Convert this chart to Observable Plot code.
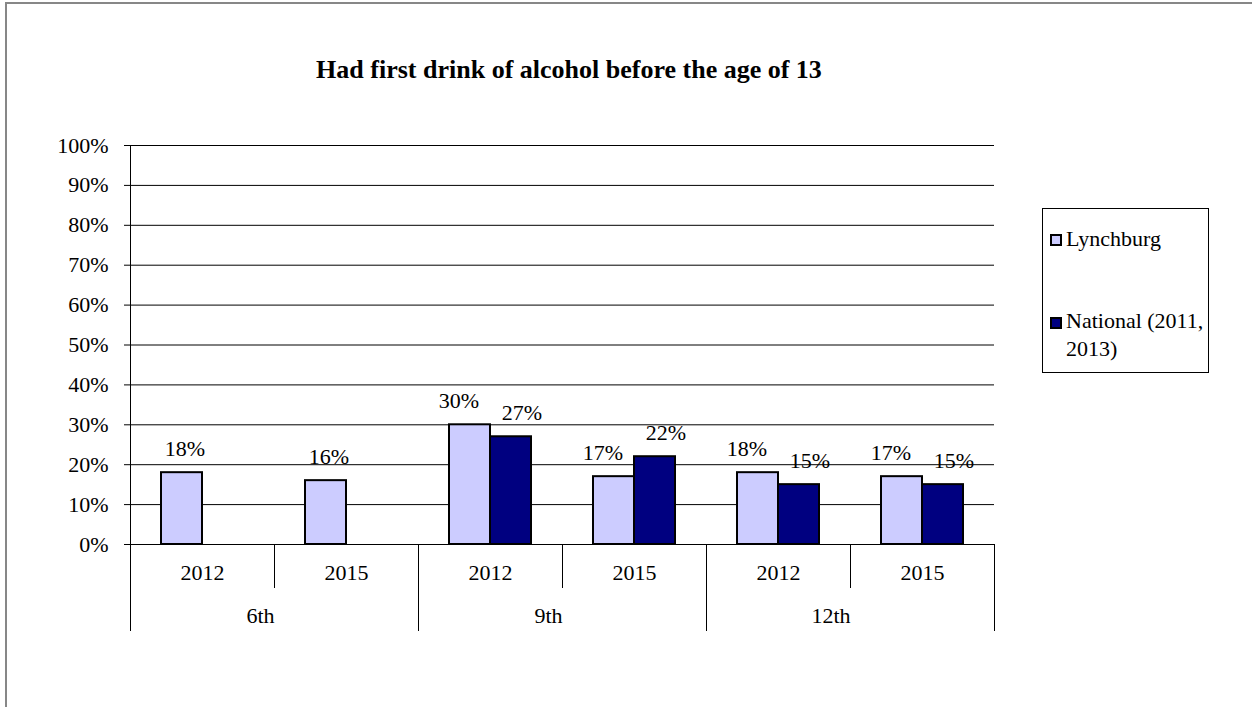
<!DOCTYPE html>
<html>
<head>
<meta charset="utf-8">
<script src="https://cdn.jsdelivr.net/npm/d3@7"></script>
<script src="https://cdn.jsdelivr.net/npm/@observablehq/plot@0.6"></script>
<style>
  html, body { margin: 0; padding: 0; background: #fff; }
  body { width: 1252px; height: 707px; position: relative; overflow: hidden;
         font-family: "Liberation Serif", "Times New Roman", serif; color: #000; }
  #outer { position: absolute; left: 5px; top: 2px; width: 1320px; height: 800px;
           border: 2px solid #878787; box-sizing: border-box; }
  #chart { position: absolute; left: 0; top: 0; }
  #title { position: absolute; left: 0; top: 57px; width: 1138px; text-align: center;
           font-weight: bold; font-size: 26px; line-height: 26px; white-space: nowrap; }
  #legend { position: absolute; left: 1042px; top: 208px; width: 167px; height: 165px;
            border: 1px solid #000; box-sizing: border-box; background: #fff; }
  .sw { position: absolute; left: 7px; width: 12px; height: 12px; border: 2px solid #000; box-sizing: border-box; }
  .lt { position: absolute; left: 23px; width: 145px; font-size: 22px; line-height: 28px; }
</style>
</head>
<body>
<div id="outer"></div>
<div id="chart"></div>
<div id="title"></div>
<div id="legend"></div>
<script>
// ---- data ----
const titleText = "Had first drink of alcohol before the age of 13";
const grades = ["6th", "9th", "12th"];
const years = ["2012", "2015"];
const seriesNames = ["Lynchburg", "National (2011, 2013)"];
const seriesColors = ["#CCCCFF", "#000080"];
// values per (grade, year) in order: 6th 2012, 6th 2015, 9th 2012, 9th 2015, 12th 2012, 12th 2015
const lynchburg = [18, 16, 30, 17, 18, 17];
const national = [null, null, 27, 22, 15, 15];
const yTicks = [0, 10, 20, 30, 40, 50, 60, 70, 80, 90, 100];

// ---- build table ----
const keys = grades.flatMap(g => years.map(y => g + " " + y));
const seriesValues = [lynchburg, national];
const rows = keys.flatMap((k, i) =>
  seriesNames.map((s, j) => ({
    key: k, series: s, value: seriesValues[j][i],
    paired: lynchburg[i] != null && national[i] != null
  }))
).filter(d => d.value != null);

// ---- layout ----
const W = 1252, H = 707;
const mL = 128, mR = 257, mT = 145, mB = 163;
const plotH = H - mT - mB;
const sepShort = 43, sepLong = 86;
const font = "'Liberation Serif', 'Times New Roman', serif";

const separators = [];
grades.forEach((g, gi) => {
  years.forEach((y, yi) => {
    const k = g + " " + y;
    if (yi === 0) {
      separators.push(Plot.frame({anchor: "left", fx: () => k, stroke: "#000", strokeWidth: 1,
        insetTop: gi === 0 ? 0 : plotH, insetBottom: -sepLong}));
    } else {
      separators.push(Plot.frame({anchor: "left", fx: () => k, stroke: "#000", strokeWidth: 1,
        insetTop: plotH, insetBottom: -sepShort}));
    }
  });
});
separators.push(Plot.frame({anchor: "right", fx: () => keys[keys.length - 1], stroke: "#000", strokeWidth: 1,
  insetTop: plotH, insetBottom: -sepLong}));

const labelOpts = {fx: "key", x: "series", y: "value", text: d => d.value + "%",
  lineAnchor: "bottom", dy: -17, fontSize: 22, fill: "#000"};

const chart = Plot.plot({
  width: W, height: H,
  marginLeft: mL, marginRight: mR, marginTop: mT, marginBottom: mB,
  style: {fontFamily: font, fontSize: "22px", color: "#000", background: "transparent", overflow: "visible"},
  fx: {domain: keys, padding: 0, label: null},
  x: {domain: seriesNames, paddingInner: 0, paddingOuter: 0.74, axis: null},
  y: {domain: [0, 100]},
  color: {domain: seriesNames, range: seriesColors},
  marks: [
    Plot.gridY(yTicks, {stroke: "#000", strokeOpacity: 1, strokeWidth: 1}),
    Plot.axisY(yTicks, {tickFormat: d => d + "%", tickSize: 6, tickPadding: 16, fontSize: 22, label: null}),
    Plot.barY(rows, {fx: "key", x: "series", y: "value", fill: "series", stroke: "#000", strokeWidth: 2}),
    // single-bar labels
    Plot.text(rows.filter(d => !d.paired), {...labelOpts, dx: 3}),
    // paired labels are nudged apart, as in the original
    Plot.text(rows.filter(d => d.paired && d.series === seriesNames[0]), {...labelOpts, dx: -11}),
    Plot.text(rows.filter(d => d.paired && d.series === seriesNames[1]), {...labelOpts, dx: 11}),
    Plot.axisFx({anchor: "bottom", tickSize: 0, tickPadding: 20, fontSize: 22, label: null,
      tickFormat: k => k.split(" ")[1]}),
    Plot.text(grades, {fx: g => g + " " + years[0], text: d => d, frameAnchor: "bottom-right",
      lineAnchor: "bottom", dy: 78, fontSize: 22, fill: "#000"}),
    ...separators
  ]
});
document.getElementById("chart").appendChild(chart);

document.getElementById("title").textContent = titleText;

// ---- legend ----
const legend = document.getElementById("legend");
const swTops = [25, 108];
const txtTops = [15.6, 97.6];
seriesNames.forEach((s, i) => {
  const sw = document.createElement("div");
  sw.className = "sw";
  sw.style.top = swTops[i] + "px";
  sw.style.background = seriesColors[i];
  legend.appendChild(sw);
  const t = document.createElement("div");
  t.className = "lt";
  t.style.top = txtTops[i] + "px";
  t.textContent = s;
  legend.appendChild(t);
});
</script>
</body>
</html>
